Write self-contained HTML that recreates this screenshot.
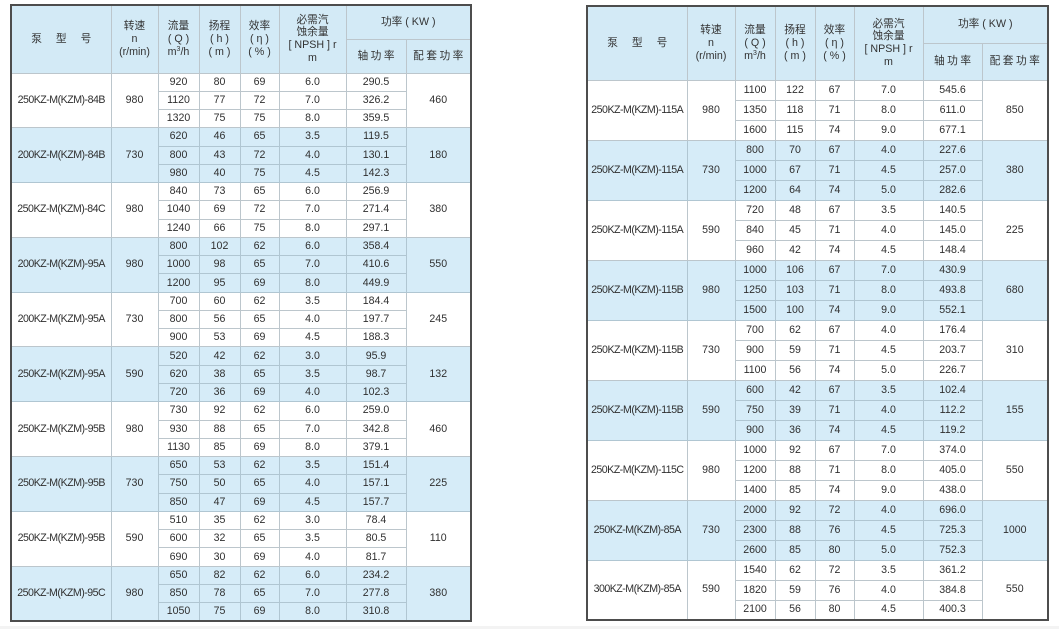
<!DOCTYPE html>
<html>
<head>
<meta charset="utf-8">
<style>
html,body{margin:0;padding:0;background:#fff;}
body{width:1059px;height:629px;overflow:hidden;position:relative;font-family:"Liberation Sans","Noto Sans CJK SC",sans-serif;color:#2f2f2f;}
table{position:absolute;border-collapse:collapse;table-layout:fixed;border:2px solid #4d4d4d;}
td,th{border:1px solid #bcc6cc;padding:0;text-align:center;vertical-align:middle;white-space:nowrap;overflow:hidden;font-weight:normal;}
th{background:#d3eaf6;font-size:10.7px;line-height:12.8px;color:#333;}
td{font-size:10.6px;line-height:13px;}
tr.b td{background:#d6ecf8;border-color:#b0c6d2;}
td.m{letter-spacing:-0.5px;}
#L{left:10px;top:4px;width:461px;height:617px;}
#R{left:586px;top:5px;width:462px;height:616px;}
#L tbody tr{height:18.27px;}
#R tbody tr{height:20px;}
#L thead tr{height:34px;}
#R thead tr{height:37px;}
.sp{letter-spacing:14px;margin-right:-14px;}
.s2{letter-spacing:2.5px;margin-right:-2.5px;}
sup{font-size:7px;line-height:0;vertical-align:4px;}
.foot{position:absolute;left:0;top:626px;width:1059px;height:3px;background:#f3f3f3;}
</style>
</head>
<body>
<table id="L">
<colgroup><col style="width:100px"><col style="width:47px"><col style="width:41px"><col style="width:41px"><col style="width:39px"><col style="width:67px"><col style="width:60px"><col style="width:65px"></colgroup>
<thead>
<tr><th rowspan="2"><span class="sp">泵型号</span></th><th rowspan="2">转速<br>n<br>(r/min)</th><th rowspan="2">流量<br>( Q )<br>m<sup>3</sup>/h</th><th rowspan="2">扬程<br>( h )<br>( m )</th><th rowspan="2">效率<br>( η )<br>( % )</th><th rowspan="2">必需汽<br>蚀余量<br>[ NPSH ] r<br>m</th><th colspan="2">功率 ( KW )</th></tr>
<tr><th><span class="s2">轴功率</span></th><th><span class="s2">配套功率</span></th></tr>
</thead>
<tbody>
<tr><td rowspan="3" class="m">250KZ-M(KZM)-84B</td><td rowspan="3">980</td><td>920</td><td>80</td><td>69</td><td>6.0</td><td>290.5</td><td rowspan="3">460</td></tr>
<tr><td>1120</td><td>77</td><td>72</td><td>7.0</td><td>326.2</td></tr>
<tr><td>1320</td><td>75</td><td>75</td><td>8.0</td><td>359.5</td></tr>
<tr class="b"><td rowspan="3" class="m">200KZ-M(KZM)-84B</td><td rowspan="3">730</td><td>620</td><td>46</td><td>65</td><td>3.5</td><td>119.5</td><td rowspan="3">180</td></tr>
<tr class="b"><td>800</td><td>43</td><td>72</td><td>4.0</td><td>130.1</td></tr>
<tr class="b"><td>980</td><td>40</td><td>75</td><td>4.5</td><td>142.3</td></tr>
<tr><td rowspan="3" class="m">250KZ-M(KZM)-84C</td><td rowspan="3">980</td><td>840</td><td>73</td><td>65</td><td>6.0</td><td>256.9</td><td rowspan="3">380</td></tr>
<tr><td>1040</td><td>69</td><td>72</td><td>7.0</td><td>271.4</td></tr>
<tr><td>1240</td><td>66</td><td>75</td><td>8.0</td><td>297.1</td></tr>
<tr class="b"><td rowspan="3" class="m">200KZ-M(KZM)-95A</td><td rowspan="3">980</td><td>800</td><td>102</td><td>62</td><td>6.0</td><td>358.4</td><td rowspan="3">550</td></tr>
<tr class="b"><td>1000</td><td>98</td><td>65</td><td>7.0</td><td>410.6</td></tr>
<tr class="b"><td>1200</td><td>95</td><td>69</td><td>8.0</td><td>449.9</td></tr>
<tr><td rowspan="3" class="m">200KZ-M(KZM)-95A</td><td rowspan="3">730</td><td>700</td><td>60</td><td>62</td><td>3.5</td><td>184.4</td><td rowspan="3">245</td></tr>
<tr><td>800</td><td>56</td><td>65</td><td>4.0</td><td>197.7</td></tr>
<tr><td>900</td><td>53</td><td>69</td><td>4.5</td><td>188.3</td></tr>
<tr class="b"><td rowspan="3" class="m">250KZ-M(KZM)-95A</td><td rowspan="3">590</td><td>520</td><td>42</td><td>62</td><td>3.0</td><td>95.9</td><td rowspan="3">132</td></tr>
<tr class="b"><td>620</td><td>38</td><td>65</td><td>3.5</td><td>98.7</td></tr>
<tr class="b"><td>720</td><td>36</td><td>69</td><td>4.0</td><td>102.3</td></tr>
<tr><td rowspan="3" class="m">250KZ-M(KZM)-95B</td><td rowspan="3">980</td><td>730</td><td>92</td><td>62</td><td>6.0</td><td>259.0</td><td rowspan="3">460</td></tr>
<tr><td>930</td><td>88</td><td>65</td><td>7.0</td><td>342.8</td></tr>
<tr><td>1130</td><td>85</td><td>69</td><td>8.0</td><td>379.1</td></tr>
<tr class="b"><td rowspan="3" class="m">250KZ-M(KZM)-95B</td><td rowspan="3">730</td><td>650</td><td>53</td><td>62</td><td>3.5</td><td>151.4</td><td rowspan="3">225</td></tr>
<tr class="b"><td>750</td><td>50</td><td>65</td><td>4.0</td><td>157.1</td></tr>
<tr class="b"><td>850</td><td>47</td><td>69</td><td>4.5</td><td>157.7</td></tr>
<tr><td rowspan="3" class="m">250KZ-M(KZM)-95B</td><td rowspan="3">590</td><td>510</td><td>35</td><td>62</td><td>3.0</td><td>78.4</td><td rowspan="3">110</td></tr>
<tr><td>600</td><td>32</td><td>65</td><td>3.5</td><td>80.5</td></tr>
<tr><td>690</td><td>30</td><td>69</td><td>4.0</td><td>81.7</td></tr>
<tr class="b"><td rowspan="3" class="m">250KZ-M(KZM)-95C</td><td rowspan="3">980</td><td>650</td><td>82</td><td>62</td><td>6.0</td><td>234.2</td><td rowspan="3">380</td></tr>
<tr class="b"><td>850</td><td>78</td><td>65</td><td>7.0</td><td>277.8</td></tr>
<tr class="b"><td>1050</td><td>75</td><td>69</td><td>8.0</td><td>310.8</td></tr>
</tbody>
</table>

<table id="R">
<colgroup><col style="width:100px"><col style="width:48px"><col style="width:40px"><col style="width:40px"><col style="width:39px"><col style="width:69px"><col style="width:59px"><col style="width:66px"></colgroup>
<thead>
<tr><th rowspan="2"><span class="sp">泵型号</span></th><th rowspan="2">转速<br>n<br>(r/min)</th><th rowspan="2">流量<br>( Q )<br>m<sup>3</sup>/h</th><th rowspan="2">扬程<br>( h )<br>( m )</th><th rowspan="2">效率<br>( η )<br>( % )</th><th rowspan="2">必需汽<br>蚀余量<br>[ NPSH ] r<br>m</th><th colspan="2">功率 ( KW )</th></tr>
<tr><th><span class="s2">轴功率</span></th><th><span class="s2">配套功率</span></th></tr>
</thead>
<tbody>
<tr><td rowspan="3" class="m">250KZ-M(KZM)-115A</td><td rowspan="3">980</td><td>1100</td><td>122</td><td>67</td><td>7.0</td><td>545.6</td><td rowspan="3">850</td></tr>
<tr><td>1350</td><td>118</td><td>71</td><td>8.0</td><td>611.0</td></tr>
<tr><td>1600</td><td>115</td><td>74</td><td>9.0</td><td>677.1</td></tr>
<tr class="b"><td rowspan="3" class="m">250KZ-M(KZM)-115A</td><td rowspan="3">730</td><td>800</td><td>70</td><td>67</td><td>4.0</td><td>227.6</td><td rowspan="3">380</td></tr>
<tr class="b"><td>1000</td><td>67</td><td>71</td><td>4.5</td><td>257.0</td></tr>
<tr class="b"><td>1200</td><td>64</td><td>74</td><td>5.0</td><td>282.6</td></tr>
<tr><td rowspan="3" class="m">250KZ-M(KZM)-115A</td><td rowspan="3">590</td><td>720</td><td>48</td><td>67</td><td>3.5</td><td>140.5</td><td rowspan="3">225</td></tr>
<tr><td>840</td><td>45</td><td>71</td><td>4.0</td><td>145.0</td></tr>
<tr><td>960</td><td>42</td><td>74</td><td>4.5</td><td>148.4</td></tr>
<tr class="b"><td rowspan="3" class="m">250KZ-M(KZM)-115B</td><td rowspan="3">980</td><td>1000</td><td>106</td><td>67</td><td>7.0</td><td>430.9</td><td rowspan="3">680</td></tr>
<tr class="b"><td>1250</td><td>103</td><td>71</td><td>8.0</td><td>493.8</td></tr>
<tr class="b"><td>1500</td><td>100</td><td>74</td><td>9.0</td><td>552.1</td></tr>
<tr><td rowspan="3" class="m">250KZ-M(KZM)-115B</td><td rowspan="3">730</td><td>700</td><td>62</td><td>67</td><td>4.0</td><td>176.4</td><td rowspan="3">310</td></tr>
<tr><td>900</td><td>59</td><td>71</td><td>4.5</td><td>203.7</td></tr>
<tr><td>1100</td><td>56</td><td>74</td><td>5.0</td><td>226.7</td></tr>
<tr class="b"><td rowspan="3" class="m">250KZ-M(KZM)-115B</td><td rowspan="3">590</td><td>600</td><td>42</td><td>67</td><td>3.5</td><td>102.4</td><td rowspan="3">155</td></tr>
<tr class="b"><td>750</td><td>39</td><td>71</td><td>4.0</td><td>112.2</td></tr>
<tr class="b"><td>900</td><td>36</td><td>74</td><td>4.5</td><td>119.2</td></tr>
<tr><td rowspan="3" class="m">250KZ-M(KZM)-115C</td><td rowspan="3">980</td><td>1000</td><td>92</td><td>67</td><td>7.0</td><td>374.0</td><td rowspan="3">550</td></tr>
<tr><td>1200</td><td>88</td><td>71</td><td>8.0</td><td>405.0</td></tr>
<tr><td>1400</td><td>85</td><td>74</td><td>9.0</td><td>438.0</td></tr>
<tr class="b"><td rowspan="3" class="m">250KZ-M(KZM)-85A</td><td rowspan="3">730</td><td>2000</td><td>92</td><td>72</td><td>4.0</td><td>696.0</td><td rowspan="3">1000</td></tr>
<tr class="b"><td>2300</td><td>88</td><td>76</td><td>4.5</td><td>725.3</td></tr>
<tr class="b"><td>2600</td><td>85</td><td>80</td><td>5.0</td><td>752.3</td></tr>
<tr><td rowspan="3" class="m">300KZ-M(KZM)-85A</td><td rowspan="3">590</td><td>1540</td><td>62</td><td>72</td><td>3.5</td><td>361.2</td><td rowspan="3">550</td></tr>
<tr><td>1820</td><td>59</td><td>76</td><td>4.0</td><td>384.8</td></tr>
<tr><td>2100</td><td>56</td><td>80</td><td>4.5</td><td>400.3</td></tr>
</tbody>
</table>
<div class="foot"></div>
</body>
</html>
